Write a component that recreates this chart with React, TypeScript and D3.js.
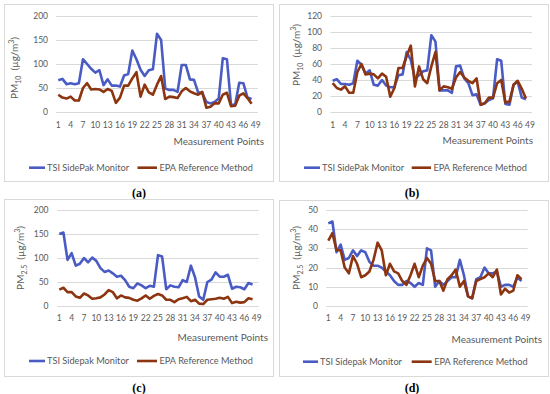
import React from "react";
import * as d3 from "d3";

// measurement points on the category axis (49 slots, 48 measured)
const categories = d3.range(1, 50);
const xTickLabels = [1, 4, 7, 10, 13, 16, 19, 22, 25, 28, 31, 34, 37, 40, 43, 46, 49];

// PM10 (µg/m³)
const tsiPM10Raw = [66, 69, 58, 60, 58, 60, 110, 100, 90, 82, 87, 56, 68, 55, 55, 53, 76, 79, 128, 110,
  88, 75, 87, 89, 163, 150, 49, 46, 46, 42, 98, 98, 68, 67, 41, 39, 21, 18, 21, 28, 112, 110, 15, 15, 61, 60, 30, 27];
const tsiPM10Corr = [39, 41, 35, 35, 34, 36, 64, 59, 48, 52, 34, 33, 40, 33, 31, 31, 46, 47, 75, 65,
  42, 46, 51, 52, 96, 88, 27, 27, 27, 24, 57, 58, 42, 36, 21, 22, 9, 11, 15, 17, 66, 64, 10, 9, 34, 38, 18, 16];
const epaPM10 = [36, 30, 28, 32, 24, 24, 50, 60, 47, 48, 47, 42, 48, 44, 19, 30, 55, 55, 70, 83,
  32, 57, 41, 36, 57, 75, 27, 32, 31, 29, 43, 50, 43, 39, 36, 42, 9, 11, 18, 18, 36, 40, 12, 13, 34, 39, 29, 17];

// PM2.5 (µg/m³)
const tsiPM25Raw = [150, 153, 96, 110, 84, 88, 100, 91, 101, 94, 79, 71, 74, 68, 61, 63, 54, 40, 37, 47,
  43, 37, 42, 40, 106, 103, 35, 43, 40, 39, 54, 50, 84, 60, 20, 13, 50, 55, 70, 61, 61, 65, 36, 40, 39, 35, 48, 45];
const tsiPM25Corr = [43, 44, 28, 32, 24, 25, 29, 26, 29, 28, 23, 21, 21, 20, 18, 16, 13, 11, 11, 13,
  12, 10, 12, 11, 30, 29, 10, 13, 11, 13, 15, 15, 24, 16, 5, 4, 14, 15, 20, 17, 17, 18, 10, 11, 11, 10, 15, 13];
const epaPM25 = [34, 38, 29, 29, 20, 17, 26, 22, 15, 16, 18, 24, 33, 29, 16, 22, 18, 17, 13, 11,
  16, 22, 15, 21, 25, 22, 13, 13, 8, 14, 16, 19, 10, 13, 5, 4, 13, 14, 15, 17, 15, 19, 6, 9, 7, 8, 16, 14];

const yTicks200 = [0, 50, 100, 150, 200];
const yTicks120 = [0, 20, 40, 60, 80, 100, 120];
const yTicks50 = [0, 10, 20, 30, 40, 50];

const TSI_COLOR = "#4a5cc4";
const EPA_COLOR = "#8c3510";
const FONT = "Lato, 'Open Sans', sans-serif";

const panels = [
  {
    key: "a", tsi: tsiPM10Raw, epa: epaPM10, yTicks: yTicks200, tsiName: "TSI SidePak Monitor", sub: "10",
    frame: [4.5, 4.5, 269, 177], xRange: [58.3, 255.7], yRange: [112, 16], yLabelX: 48,
    xLabelY: 128, titleX: 264, titleY: 145, legendY: 167.7, legend: [29, 45, 137.5, 157],
    yTitle: [14, 68], caption: [139, 193],
  },
  {
    key: "b", tsi: tsiPM10Corr, epa: epaPM10, yTicks: yTicks120, tsiName: "TSI SidePak Monitor", sub: "10",
    frame: [279.5, 4.5, 269, 177], xRange: [332.7, 530], yRange: [112, 16], yLabelX: 322,
    xLabelY: 128, titleX: 533, titleY: 143.5, legendY: 167.7, legend: [304, 320, 411.7, 431],
    yTitle: [296, 55], caption: [412, 193],
  },
  {
    key: "c", tsi: tsiPM25Raw, epa: epaPM25, yTicks: yTicks200, tsiName: "TSI Sidepak Monitor", sub: "2.5",
    frame: [4.5, 199.5, 269, 177], xRange: [59.3, 256.7], yRange: [306, 210], yLabelX: 48.5,
    xLabelY: 321, titleX: 268, titleY: 341, legendY: 361, legend: [29, 45, 137, 157],
    yTitle: [20, 258], caption: [139, 388],
  },
  {
    key: "d", tsi: tsiPM25Corr, epa: epaPM25, yTicks: yTicks50, tsiName: "TSI Sidepak Monitor", sub: "2.5",
    frame: [279.5, 200.5, 269, 176], xRange: [328.3, 525.6], yRange: [306, 210], yLabelX: 318,
    xLabelY: 321, titleX: 542, titleY: 342.5, legendY: 361.7, legend: [303, 318, 411.7, 431.7],
    yTitle: [296, 258], caption: [412, 388],
  },
];

function Panel({ p }) {
  const x = d3.scalePoint().domain(categories).range(p.xRange);
  const step = x.step();
  const yMax = p.yTicks[p.yTicks.length - 1];
  const y = d3.scaleLinear().domain([0, yMax]).range(p.yRange);
  const line = d3.line().x((d, i) => x(categories[i])).y((d) => y(d));
  const gridLeft = p.xRange[0] - step / 2;
  const gridRight = p.xRange[1] + step / 2;
  const [lb0, lb1, lr0, lr1] = p.legend;

  return (
    <g>
      <rect x={p.frame[0]} y={p.frame[1]} width={p.frame[2]} height={p.frame[3]} fill="#fff" stroke="#d9d9d9" />

      {/* gridlines + y labels */}
      {p.yTicks.map((t) => (
        <g key={t}>
          <line x1={gridLeft} x2={gridRight} y1={Math.round(y(t)) + 0.5} y2={Math.round(y(t)) + 0.5} stroke="#d9d9d9" />
          <text x={p.yLabelX} y={y(t)} dy="0.35em" textAnchor="end" fontSize={8.5} fill="#595959">{t}</text>
        </g>
      ))}

      {/* x labels */}
      {xTickLabels.map((t) => (
        <text key={t} x={x(t)} y={p.xLabelY} textAnchor="middle" fontSize={8.5} fill="#595959">{t}</text>
      ))}

      <text x={p.titleX} y={p.titleY} textAnchor="end" fontSize={10} fill="#595959">Measurement Points</text>

      <text transform={`translate(${p.yTitle[0]},${p.yTitle[1]}) rotate(-90)`} textAnchor="middle" dy="0.35em" fontSize={10} fill="#595959">
        PM<tspan fontSize={7} dy="3">{p.sub}</tspan><tspan dy="-3">{"\u00a0 (\u00b5g/m"}</tspan><tspan fontSize={7} dy="-4">3</tspan><tspan dy="4">)</tspan>
      </text>

      <path d={line(p.tsi)} fill="none" stroke={TSI_COLOR} strokeWidth={2.6} strokeLinejoin="round" />
      <path d={line(p.epa)} fill="none" stroke={EPA_COLOR} strokeWidth={2.6} strokeLinejoin="round" />

      {/* legend */}
      <line x1={lb0} x2={lb1} y1={p.legendY} y2={p.legendY} stroke={TSI_COLOR} strokeWidth={2.6} />
      <text x={lb1 + 2} y={p.legendY} dy="0.35em" fontSize={9.2} fill="#595959">{p.tsiName}</text>
      <line x1={lr0} x2={lr1} y1={p.legendY} y2={p.legendY} stroke={EPA_COLOR} strokeWidth={2.6} />
      <text x={lr1 + 2.5} y={p.legendY} dy="0.35em" fontSize={9.2} fill="#595959">EPA Reference Method</text>

      <text x={p.caption[0]} y={p.caption[1]} dy="0.35em" textAnchor="middle" fontFamily="'Liberation Serif', serif" fontWeight="bold" fontSize={12} fill="#000">
        ({p.key})
      </text>
    </g>
  );
}

export default function App() {
  return (
    <svg width={550} height={394} style={{ position: "absolute", left: 0, top: 0, background: "#fff" }} fontFamily={FONT}>
      <rect width={550} height={394} fill="#fff" />
      {panels.map((p) => (
        <Panel key={p.key} p={p} />
      ))}
    </svg>
  );
}
